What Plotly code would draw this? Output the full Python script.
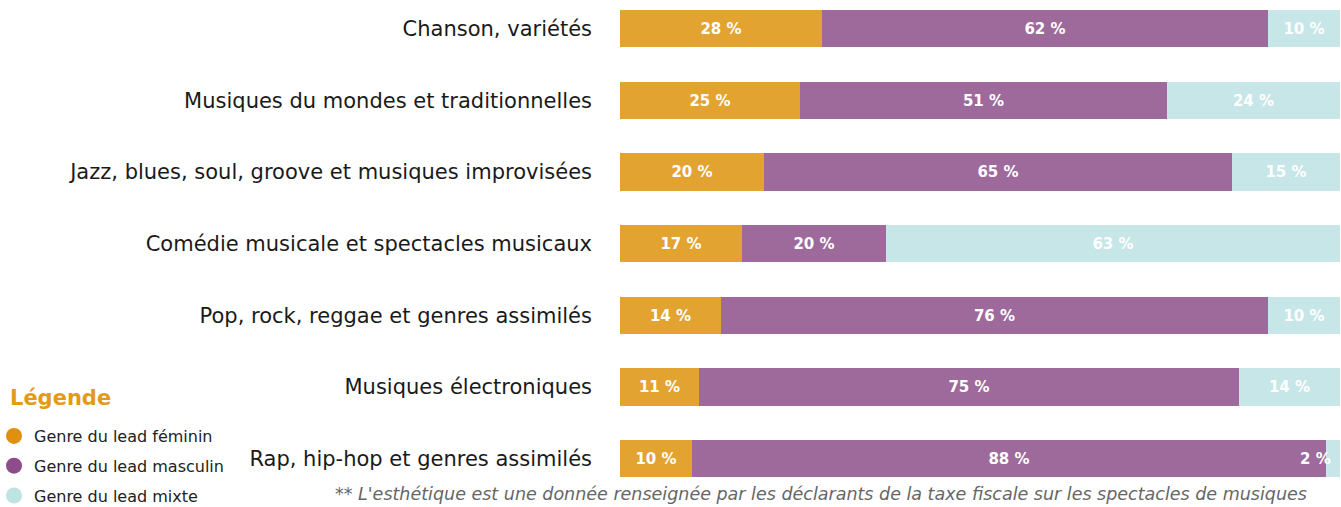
import plotly.graph_objects as go

categories = [
    "Chanson, variétés",
    "Musiques du mondes et traditionnelles",
    "Jazz, blues, soul, groove et musiques improvisées",
    "Comédie musicale et spectacles musicaux",
    "Pop, rock, reggae et genres assimilés",
    "Musiques électroniques",
    "Rap, hip-hop et genres assimilés",
]
feminin = [28, 25, 20, 17, 14, 11, 10]
masculin = [62, 51, 65, 20, 76, 75, 88]
mixte = [10, 24, 15, 63, 10, 14, 2]

series_names = ["Genre du lead féminin", "Genre du lead masculin", "Genre du lead mixte"]
bar_colors = ["#E2A331", "#9E6A9B", "#C6E6E8"]
legend_colors = ["#E0900F", "#8E4D8A", "#BEE3E3"]
legend_title = "Légende"
footnote = "** L'esthétique est une donnée renseignée par les déclarants de la taxe fiscale sur les spectacles de musiques"

FONT = "DejaVu Sans"
W, H = 1341, 507
L, R = 620, 1
PW = W - L - R
SMALL = 5

fig = go.Figure()
annotations = []
for name, vals, col in zip(series_names, [feminin, masculin, mixte], bar_colors):
    fig.add_trace(go.Bar(
        y=categories, x=vals, orientation="h", name=name,
        marker=dict(color=col, line=dict(width=0)),
        text=[f"{v} %" if v >= SMALL else "" for v in vals], textposition="inside",
        insidetextanchor="middle", constraintext="none",
        textfont=dict(family=FONT, size=15, color="white", weight="bold"),
        showlegend=False, hoverinfo="skip", width=0.52,
    ))
    for cat, v in zip(categories, vals):
        if v < SMALL:
            annotations.append(dict(
                x=100, y=cat, xref="x", yref="y", text=f"{v} %", showarrow=False,
                xanchor="right", xshift=-7,
                font=dict(family=FONT, size=15, color="white", weight="bold"),
            ))

for i, (name, col) in enumerate(zip(series_names, legend_colors)):
    fig.add_trace(go.Scatter(
        x=[None], y=[None], mode="markers", name=name,
        marker=dict(symbol="circle", size=18, color=col),
        legendgroup=f"g{i}", showlegend=True,
    ))

annotations.append(dict(
    text=legend_title, xref="paper", yref="paper",
    x=(8 - L) / PW, y=1 - 398 / H, xanchor="left", yanchor="middle",
    showarrow=False, font=dict(family=FONT, size=21, color="#E39A1B", weight="bold"),
))
annotations.append(dict(
    text=footnote, xref="paper", yref="paper",
    x=(333 - L) / PW, y=1 - 494 / H, xanchor="left", yanchor="middle",
    showarrow=False, font=dict(family=FONT, size=17.5, color="#666", style="italic"),
))

px_per_cat = 71.7
top_center = 28.5
fig.update_layout(
    width=W, height=H,
    margin=dict(l=L, r=R, t=0, b=0, autoexpand=False),
    barmode="stack", bargap=0,
    plot_bgcolor="white", paper_bgcolor="white",
    font=dict(family=FONT, color="#222"),
    xaxis=dict(range=[0, 100], visible=False, fixedrange=True),
    yaxis=dict(
        categoryorder="array", categoryarray=categories,
        range=[(H - top_center) / px_per_cat, -top_center / px_per_cat],
        showgrid=False, zeroline=False, showline=False, ticks="",
        ticklabelstandoff=27,
        tickfont=dict(family=FONT, size=21, color="#1a1a1a"),
    ),
    legend=dict(
        x=(-6 - L) / PW, y=1 - 419 / H, xanchor="left", yanchor="top",
        font=dict(family=FONT, size=16, color="#222"),
        bgcolor="rgba(0,0,0,0)", tracegroupgap=6, itemwidth=30,
    ),
    annotations=annotations,
)

fig.write_html(
    "out.html",
    config={"displayModeBar": False},
    post_script="document.body.style.margin='0';document.body.style.overflow='hidden';",
)
